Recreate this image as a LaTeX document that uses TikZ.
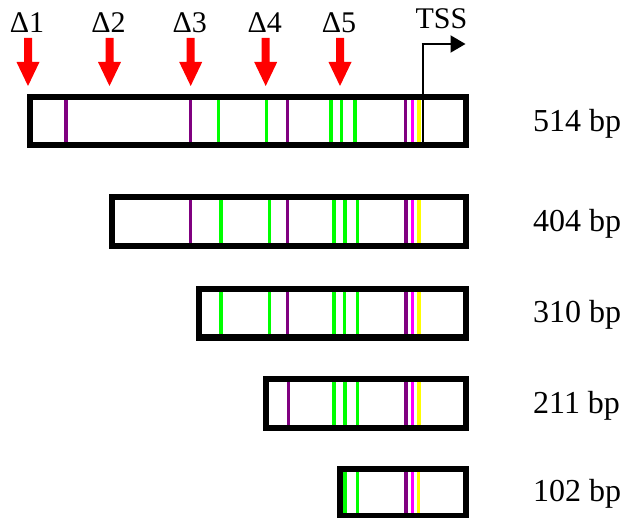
\documentclass[tikz,border=0pt]{standalone}
\usepackage{fontspec}
\setmainfont{Liberation Serif}
\usetikzlibrary{arrows.meta}
\definecolor{siteP}{HTML}{800080}
\definecolor{siteG}{HTML}{00FF00}
\definecolor{siteM}{HTML}{FF00FF}
\definecolor{siteY}{HTML}{FFFF00}
\definecolor{cutred}{HTML}{FF0000}
\begin{document}
\begin{tikzpicture}[x=1pt,y=-1pt,
  barbox/.style={draw=black,line width=6pt,fill=white},
  siteline/.style={line width=3.3pt},
  bplabel/.style={anchor=base west,inner sep=0pt,font=\fontsize{32}{38}\selectfont},
  dlabel/.style={anchor=base,inner sep=0pt,font=\fontsize{30}{36}\selectfont},
  cutarrow/.style={fill=cutred,draw=none}]
\useasboundingbox (0,0) rectangle (626,518);
% bars: left, right, top, bottom, sites
\newcommand\genebar[5]{%
  \fill[white] (#1,#3) rectangle (#2,#4);
  \foreach \col/\xx in {#5} \draw[siteline,draw=\col] (\xx,#3) -- (\xx,#4);
  \draw[barbox,fill=none] (#1,#3) rectangle (#2,#4);
}
\genebar{30}{465.5}{97}{145.5}{siteP/66,siteP/190.7,siteG/218.7,siteG/266.7,siteP/287.3,siteG/331,siteG/341.7,siteG/355,siteP/405.7,siteM/412.3,siteY/419}
\genebar{112}{465.5}{197}{246}{siteP/190.7,siteG/221,siteG/269.3,siteP/287.7,siteG/334,siteG/345,siteG/357.7,siteP/406,siteM/412.7,siteY/419}
\genebar{199}{465.5}{289}{337.5}{siteG/221,siteG/269.3,siteP/287.7,siteG/334,siteG/344.7,siteG/357.7,siteP/406,siteM/412.7,siteY/419}
\genebar{265.5}{465.5}{379}{427.5}{siteP/288.3,siteG/334,siteG/345,siteG/357.3,siteP/406,siteM/412.7,siteY/419}
\genebar{340}{465.5}{469}{516}{siteG/345,siteG/357.7,siteP/406,siteM/412.7,siteY/418.7}
% size labels
\node[bplabel] (L1) at (533,131.5) {514 bp};
\node[bplabel] (L2) at (533,231.5) {404 bp};
\node[bplabel] (L3) at (533,323) {310 bp};
\node[bplabel] (L4) at (533,413) {211 bp};
\node[bplabel] (L5) at (533,501) {102 bp};
% deletion arrows and labels
\foreach \xx/\nm in {28/1,109.5/2,190.7/3,265.7/4,340/5}{
  \fill[cutarrow] (\xx-4,38) -- (\xx+4,38) -- (\xx+4,62) -- (\xx+11.5,62) -- (\xx,86) -- (\xx-11.5,62) -- (\xx-4,62) -- cycle;
  \node[dlabel] (D\nm) at (\xx-1,33) {Δ\nm};
}
% TSS
\coordinate (tssbase) at (422.7,145.5);
\coordinate (tsscorner) at (422.7,44);
\coordinate (tsstip) at (465.5,44);
\draw[line width=2pt] (tssbase) -- (tsscorner);
\draw[line width=2pt,-{Triangle[length=15pt,width=17pt]}] ([xshift=-1pt]tsscorner) -- (tsstip);
\node[dlabel] (TSS) at (441.5,29) {TSS};
\end{tikzpicture}
\end{document}
